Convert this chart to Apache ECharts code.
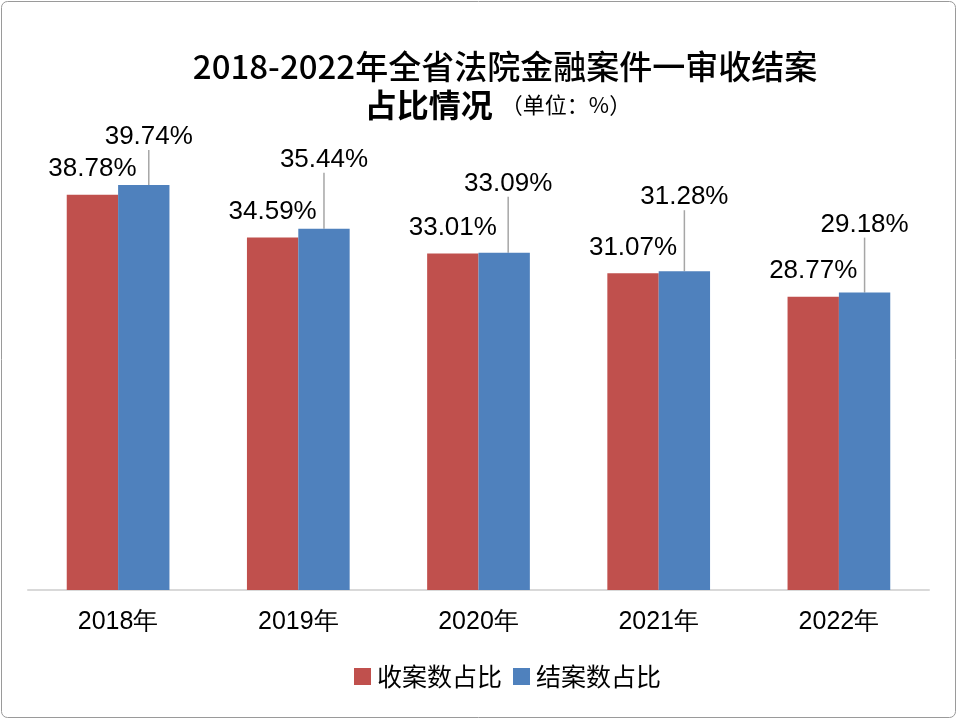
<!DOCTYPE html>
<html>
<head>
<meta charset="utf-8">
<script src="https://cdn.jsdelivr.net/npm/echarts@6/dist/echarts.min.js"></script>
<style>
html,body{margin:0;padding:0;background:#fff;}
#chart{width:958px;height:720px;}
</style>
</head>
<body>
<div id="chart"></div>
<script>
const categories = ['2018年', '2019年', '2020年', '2021年', '2022年'];
const seriesNames = ['收案数占比', '结案数占比'];
const receivedShare = [38.78, 34.59, 33.01, 31.07, 28.77];
const closedShare = [39.74, 35.44, 33.09, 31.28, 29.18];
const titleLine1 = '2018-2022年全省法院金融案件一审收结案';
const titleLine2Main = '占比情况';
const titleLine2Unit = '（单位：%）';

// label offsets for the raised closed-share labels (layout only)
const blueLabelDx = [5, 0, 4, 0, 0];
const blueLabelDy = [-30, -51, -51, -56, -50];

const chart = echarts.init(document.getElementById('chart'));
const labelFont = 'Liberation Sans, Arial, sans-serif';
const cjkFont = '"Noto Sans CJK SC", sans-serif';

chart.setOption({
  backgroundColor: '#ffffff',
  animation: false,
  graphic: [
    {
      type: 'rect',
      shape: {x: 1.5, y: 1.5, width: 954, height: 716, r: 6},
      style: {fill: 'none', stroke: '#9a9a9a', lineWidth: 1},
      silent: true
    },
    {
      type: 'text',
      x: 505, y: 66,
      style: {
        text: titleLine1,
        align: 'center', verticalAlign: 'middle',
        font: '500 33px "Noto Sans CJK SC", sans-serif',
        fill: '#000'
      }
    },
    {
      type: 'text',
      x: 498, y: 105,
      style: {
        text: '{a|' + titleLine2Main + '}{b|' + titleLine2Unit + '}',
        align: 'center', verticalAlign: 'middle',
        rich: {
          a: {fontSize: 32, fontWeight: 'bold', fontFamily: cjkFont, fill: '#000', color: '#000'},
          b: {fontSize: 22, fontWeight: 'normal', fontFamily: cjkFont, fill: '#000', color: '#000', padding: [0, 0, 0, 8]}
        }
      }
    }
  ],
  grid: {left: 28, right: 29, top: 131.4, bottom: 130, containLabel: false},
  xAxis: {
    type: 'category',
    data: categories,
    axisLine: {show: true, lineStyle: {color: '#d9d9d9', width: 2}},
    axisTick: {show: false},
    axisLabel: {color: '#000', fontSize: 25, fontFamily: labelFont, margin: 20}
  },
  yAxis: {
    type: 'value',
    min: 0, max: 45,
    show: false,
    splitLine: {show: false}
  },
  legend: {
    data: seriesNames,
    bottom: 26,
    left: 349,
    itemWidth: 17, itemHeight: 17, itemGap: 11,
    icon: 'rect',
    textStyle: {fontSize: 25, color: '#000', fontFamily: cjkFont, padding: [0, 0, 0, 1]}
  },
  series: [
    {
      name: seriesNames[0],
      type: 'bar',
      data: receivedShare,
      barGap: '0%',
      barCategoryGap: '43%',
      itemStyle: {color: '#C0504D'},
      label: {
        show: true, position: 'top', distance: 13,
        formatter: p => p.value.toFixed(2) + '%',
        fontSize: 26, color: '#000', fontFamily: labelFont
      }
    },
    {
      name: seriesNames[1],
      type: 'bar',
      data: closedShare,
      barGap: '0%',
      barCategoryGap: '43%',
      itemStyle: {color: '#4F81BD'},
      label: {
        show: true, position: 'top', distance: 5,
        formatter: p => p.value.toFixed(2) + '%',
        fontSize: 26, color: '#000', fontFamily: labelFont
      },
      labelLine: {show: true, lineStyle: {color: '#a6a6a6', width: 1.5}},
      labelLayout: function (params) {
        const i = params.dataIndex;
        return {dx: blueLabelDx[i], dy: blueLabelDy[i]};
      }
    }
  ]
});
</script>
</body>
</html>
